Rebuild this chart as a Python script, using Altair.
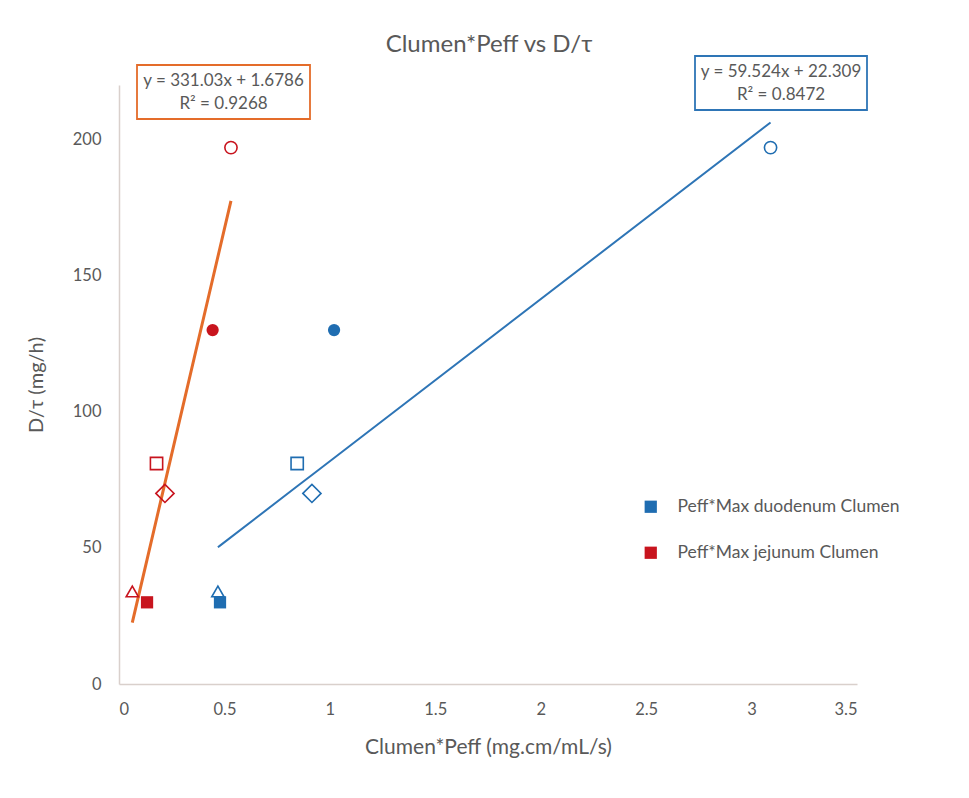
import altair as alt
import pandas as pd

# ---------------- data ----------------
compounds = ["C1", "C2", "C3", "C4", "C5", "C6"]
dose_rate = [197, 130, 81, 70, 34, 30]                 # D/tau (mg/h)
duodenum_x = [3.09, 1.02, 0.845, 0.915, 0.469, 0.479]  # Clumen*Peff, duodenum
jejunum_x = [0.531, 0.444, 0.178, 0.218, 0.063, 0.133] # Clumen*Peff, jejunum
series = ["Peff*Max duodenum Clumen", "Peff*Max jejunum Clumen"]
slopes = [59.524, 331.03]
intercepts = [22.309, 1.6786]
r_squared = [0.8472, 0.9268]
x_ticks = [0, 0.5, 1, 1.5, 2, 2.5, 3, 3.5]
y_ticks = [0, 50, 100, 150, 200]
chart_title = "Clumen*Peff vs D/τ"

# ---------------- styles ----------------
marker_shapes = ["circle", "circle", "square", "diamond", "triangle-up", "square"]
solid_compounds = ["C2", "C6"]
big_compounds = ["C4"]          # drawn with the larger diamond symbol
point_colors = ["#1f6db1", "#c8141e"]
line_colors = ["#2e75b6", "#e46c2a"]
GREY = "#595959"
AXIS_GREY = "#d9d0cc"
FONT = "Lato"

rows = []
for s, xs, m, b in zip(series, [duodenum_x, jejunum_x], slopes, intercepts):
    for c, x, y in zip(compounds, xs, dose_rate):
        rows.append({"series": s, "compound": c, "x": x, "y": y,
                     "slope": m, "intercept": b})
df = pd.DataFrame(rows)

xenc = alt.X("x:Q", scale=alt.Scale(domain=[0, 3.5], nice=False),
             axis=alt.Axis(values=x_ticks, format="~g", title="Clumen*Peff (mg.cm/mL/s)",
                           grid=False, ticks=False, domainColor=AXIS_GREY, domainWidth=1.5,
                           labelColor=GREY, labelFontSize=16.5, labelPadding=17, labelFont=FONT,
                           titleFont=FONT, titleFontSize=21, titleColor=GREY, titleFontWeight="normal",
                           titlePadding=19))
yenc = alt.Y("y:Q", scale=alt.Scale(domain=[0, 220], nice=False),
             axis=alt.Axis(values=y_ticks, title="D/τ (mg/h)",
                           grid=False, ticks=False, domainColor=AXIS_GREY, domainWidth=1.5,
                           labelColor=GREY, labelFontSize=16.5, labelPadding=18, labelFont=FONT,
                           titleFont=FONT, titleFontSize=20, titleColor=GREY, titleFontWeight="normal",
                           titlePadding=26))

shape_enc = alt.Shape("compound:N", scale=alt.Scale(domain=compounds, range=marker_shapes), legend=None)
stroke_enc = alt.Stroke("series:N", scale=alt.Scale(domain=series, range=point_colors), legend=None)

base = alt.Chart(df)

open_small = base.transform_filter(
    ~alt.FieldOneOfPredicate(field="compound", oneOf=solid_compounds + big_compounds)
).mark_point(filled=False, strokeWidth=1.6, opacity=1, size=150).encode(
    x=xenc, y=yenc, shape=shape_enc, stroke=stroke_enc,
)

open_big = base.transform_filter(
    alt.FieldOneOfPredicate(field="compound", oneOf=big_compounds)
).mark_point(filled=False, strokeWidth=1.6, opacity=1, size=330).encode(
    x=xenc, y=yenc, shape=shape_enc, stroke=stroke_enc,
)

solid_pts = base.transform_filter(
    alt.FieldOneOfPredicate(field="compound", oneOf=solid_compounds)
).mark_point(filled=True, opacity=1, size=150).encode(
    x=xenc, y=yenc, shape=shape_enc,
    fill=alt.Fill("series:N", scale=alt.Scale(domain=series, range=point_colors),
                  legend=alt.Legend(title=None, orient="none", legendX=523, legendY=413,
                                    symbolType="square", symbolSize=150, symbolStrokeWidth=0,
                                    labelFontSize=17.5, labelColor=GREY, labelFont=FONT, labelLimit=0,
                                    rowPadding=27, labelOffset=18, padding=0)),
)

trend = base.transform_calculate(
    fit="datum.slope * datum.x + datum.intercept"
).mark_line(clip=True).encode(
    x="x:Q", y="fit:Q",
    color=alt.Color("series:N", scale=alt.Scale(domain=series, range=line_colors), legend=None),
    strokeWidth=alt.StrokeWidth("series:N", scale=alt.Scale(domain=series, range=[2, 3]), legend=None),
    order="x:Q",
)

one = pd.DataFrame({"k": [0]})

def eq_box(i, x1, x2, y1, y2):
    txt = [f"y = {slopes[i]}x + {intercepts[i]}", f"R² = {r_squared[i]}"]
    box = alt.Chart(one).mark_rect(
        fill="white", stroke=line_colors[i], strokeWidth=1.8
    ).encode(x=alt.value(x1), x2=alt.value(x2), y=alt.value(y1), y2=alt.value(y2))
    label = alt.Chart(one).mark_text(
        font=FONT, fontSize=17, color=GREY, align="center", baseline="middle", lineHeight=23
    ).encode(x=alt.value((x1 + x2) / 2), y=alt.value((y1 + y2) / 2 - 11.5), text=alt.value(txt))
    return box + label

box_duo = eq_box(0, 576, 748, -29, 25)
box_jej = eq_box(1, 18, 191, -20, 34)

title_mark = alt.Chart(one).mark_text(
    font=FONT, fontSize=24, color=GREY, align="center", baseline="middle"
).encode(x=alt.value(370), y=alt.value(-40), text=alt.value(chart_title))

chart = alt.layer(trend, open_small, open_big, solid_pts, box_duo, box_jej, title_mark).resolve_scale(
    color="independent", stroke="independent", fill="independent"
).properties(
    width=738, height=599,
    background="white",
    autosize=alt.AutoSizeParams(type="none"),
    padding={"left": 111, "top": 77, "right": 104, "bottom": 106},
).configure_view(strokeWidth=0, stroke="transparent")

chart.save("out.html", embed_options={"renderer": "svg", "actions": False})
